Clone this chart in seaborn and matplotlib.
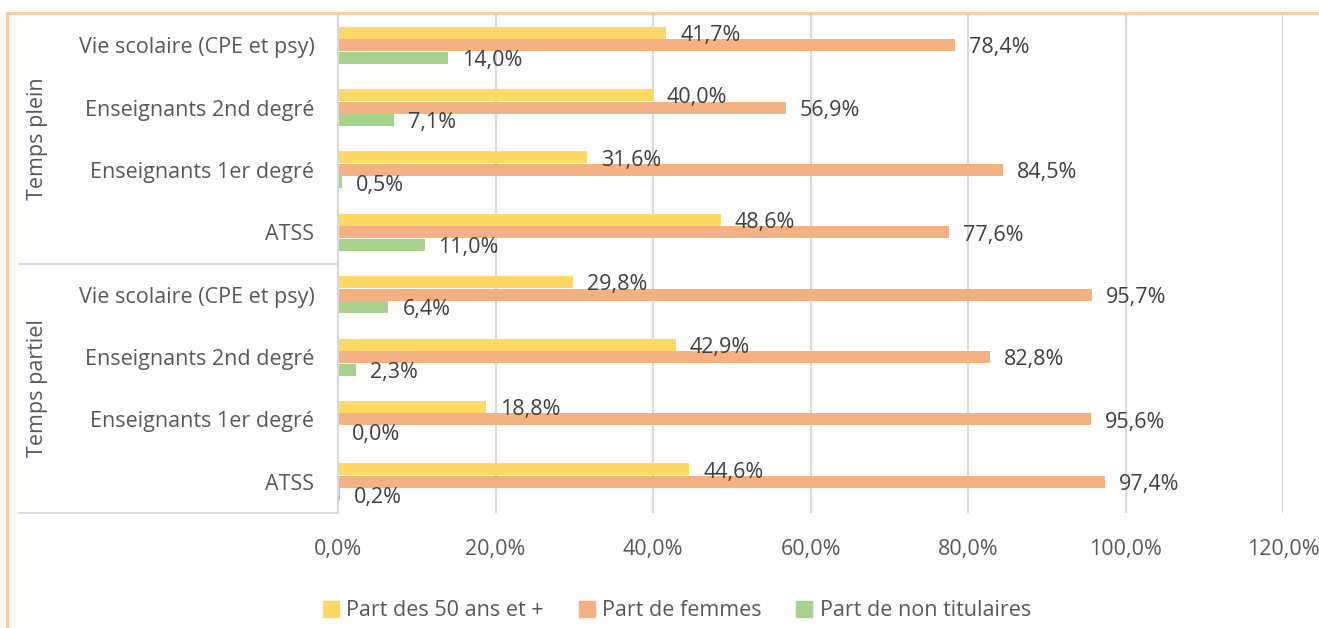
import matplotlib
matplotlib.use("Agg")
import matplotlib.pyplot as plt
import matplotlib.transforms as mtransforms
from matplotlib.lines import Line2D
import numpy as np
import pandas as pd
import seaborn as sns

# --- data ---
groups = ["Temps plein", "Temps partiel"]
categories = ["Vie scolaire (CPE et psy)", "Enseignants 2nd degré",
              "Enseignants 1er degré", "ATSS"]
series = ["Part des 50 ans et +", "Part de femmes", "Part de non titulaires"]

part_50_plus = [41.7, 40.0, 31.6, 48.6, 29.8, 42.9, 18.8, 44.6]
part_femmes = [78.4, 56.9, 84.5, 77.6, 95.7, 82.8, 95.6, 97.4]
part_non_tit = [14.0, 7.1, 0.5, 11.0, 6.4, 2.3, 0.0, 0.2]

x_ticks = [0, 20, 40, 60, 80, 100, 120]

colors = ["#FFD966", "#F4B183", "#A9D18E"]
TEXT = "#595959"
LABEL = "#404040"
GRID = "#D9D9D9"
BORDER = "#F9CCA3"
FS = 15.5

rows = [f"{g}|{c}" for g in groups for c in categories]
df = pd.DataFrame({
    "row": rows * 3,
    "serie": np.repeat(series, len(rows)),
    "value": part_50_plus + part_femmes + part_non_tit,
})

sns.set_theme(style="white")
plt.rcParams["font.family"] = ["Open Sans", "DejaVu Sans"]

fig = plt.figure(figsize=(13.19, 6.28), dpi=100)
ax = fig.add_axes([338 / 1319, 1 - 513 / 628, 945 / 1319, 499 / 628])

sns.barplot(data=df, y="row", x="value", hue="serie", hue_order=series,
            order=rows, palette=colors, saturation=1, orient="h",
            width=0.6, gap=0.04, linewidth=0, ax=ax)

fmt = lambda v: f"{v:.1f}%".replace(".", ",")
for cont in ax.containers:
    anns = ax.bar_label(cont, labels=[fmt(b.get_width()) for b in cont],
                        padding=11, fontsize=FS, color=LABEL)
    for a in anns:
        a.xyann = (10, -2)

ax.set_xlim(0, 120)
ax.set_ylim(len(rows) - 0.5, -0.5)
ax.set_xticks(x_ticks)
ax.set_xticklabels([fmt(v) for v in x_ticks], fontsize=FS, color=TEXT)
ax.set_yticks(range(len(rows)))
ax.set_yticklabels([r.split("|")[1] for r in rows], fontsize=FS, color=TEXT)
ax.tick_params(axis="x", length=0, pad=19)
ax.tick_params(axis="y", length=0, pad=17)
ax.set_xlabel("")
ax.set_ylabel("")
ax.xaxis.grid(True, color=GRID, linewidth=1.5)
ax.set_axisbelow(True)
for s in ["top", "right", "bottom"]:
    ax.spines[s].set_visible(False)
ax.spines["left"].set_color(GRID)
ax.spines["left"].set_linewidth(1.5)

# group labels and separators on the category axis
trans = mtransforms.blended_transform_factory(ax.transAxes, ax.transData)
x_left = (19 - 338) / 945
for yy in [3.5, 7.5]:
    ax.add_line(Line2D([x_left, 0], [yy, yy], transform=trans, color=GRID,
                       linewidth=1.5, clip_on=False))
for i, g in enumerate(groups):
    ax.text((37 - 338) / 945, 1.5 + 4 * i, g, transform=trans, rotation=90,
            ha="center", va="center", fontsize=FS, color=TEXT)

ax.get_legend().remove()
handles = [plt.Rectangle((0, 0), 1, 1, color=c) for c in colors]
fig.legend(handles, series, loc="center", bbox_to_anchor=(677 / 1319, 1 - 611 / 628),
           ncol=3, frameon=False, fontsize=FS, handlelength=0.75, handleheight=0.75,
           handletextpad=0.35, columnspacing=1.6, labelcolor=TEXT)

# chart-area border (top and left visible)
fig.add_artist(Line2D([7 / 1319, 1], [1 - 13 / 628] * 2, color=BORDER, linewidth=2.2))
fig.add_artist(Line2D([7 / 1319] * 2, [0, 1 - 13 / 628], color=BORDER, linewidth=2.2))

fig.savefig("out.png", dpi=100)
